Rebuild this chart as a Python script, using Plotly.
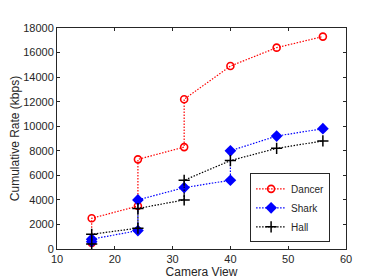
import plotly.graph_objects as go

dancer_x = [16, 16, 24, 24, 32, 32, 40, 48, 56]
dancer_y = [500, 2500, 3500, 7300, 8300, 12200, 14900, 16400, 17300]
shark_x = [16, 16, 24, 24, 32, 40, 40, 48, 56]
shark_y = [600, 800, 1500, 4000, 5000, 5600, 8000, 9200, 9800]
hall_x = [16, 16, 24, 24, 32, 32, 40, 48, 56]
hall_y = [400, 1200, 1700, 3300, 4000, 5600, 7200, 8200, 8800]

x_ticks = [10, 20, 30, 40, 50, 60]
y_ticks = [0, 2000, 4000, 6000, 8000, 10000, 12000, 14000, 16000, 18000]
y_ticktext = [str(v) for v in y_ticks]

DASH = "1.5px,1.5px"
fig = go.Figure()
fig.add_trace(go.Scatter(x=dancer_x, y=dancer_y, name="Dancer", mode="lines+markers",
                         line=dict(color="red", width=1.2, dash=DASH),
                         marker=dict(symbol="circle-open", size=7, color="red", line=dict(width=1.6))))
fig.add_trace(go.Scatter(x=shark_x, y=shark_y, name="Shark", mode="lines+markers",
                         line=dict(color="blue", width=1.2, dash=DASH),
                         marker=dict(symbol="diamond", size=9, color="blue")))
fig.add_trace(go.Scatter(x=hall_x, y=hall_y, name="Hall", mode="lines+markers",
                         line=dict(color="black", width=1.2, dash=DASH),
                         marker=dict(symbol="cross-thin-open", size=8, color="black", line=dict(width=1.5, color="black"))))

FONT = "Liberation Sans, Arial"
axis_common = dict(showline=True, linecolor="#262626", linewidth=1, mirror="ticks",
                   ticks="inside", ticklen=3, tickcolor="#262626", showgrid=False, zeroline=False,
                   tickfont=dict(family=FONT, size=11, color="#262626"))
fig.update_xaxes(range=[10, 60], tickvals=x_ticks, automargin=True,
                 title=dict(text="Camera View", font=dict(family=FONT, size=12, color="#262626"), standoff=2),
                 **axis_common)
fig.update_yaxes(range=[0, 18000], tickvals=y_ticks, ticktext=y_ticktext, automargin=False,
                 title=dict(text="Cumulative Rate (kbps)", font=dict(family=FONT, size=12, color="#262626"), standoff=3),
                 **axis_common)

fig.update_layout(
    width=374, height=280,
    margin=dict(l=49, r=36, t=20, b=31),
    plot_bgcolor="white", paper_bgcolor="white",
    legend=dict(x=0.945, y=0.03, xanchor="right", yanchor="bottom",
                bgcolor="white", bordercolor="#262626", borderwidth=1,
                font=dict(family=FONT, size=10, color="#262626"),
                itemwidth=30, tracegroupgap=0),
)
fig.write_html("out.html")
